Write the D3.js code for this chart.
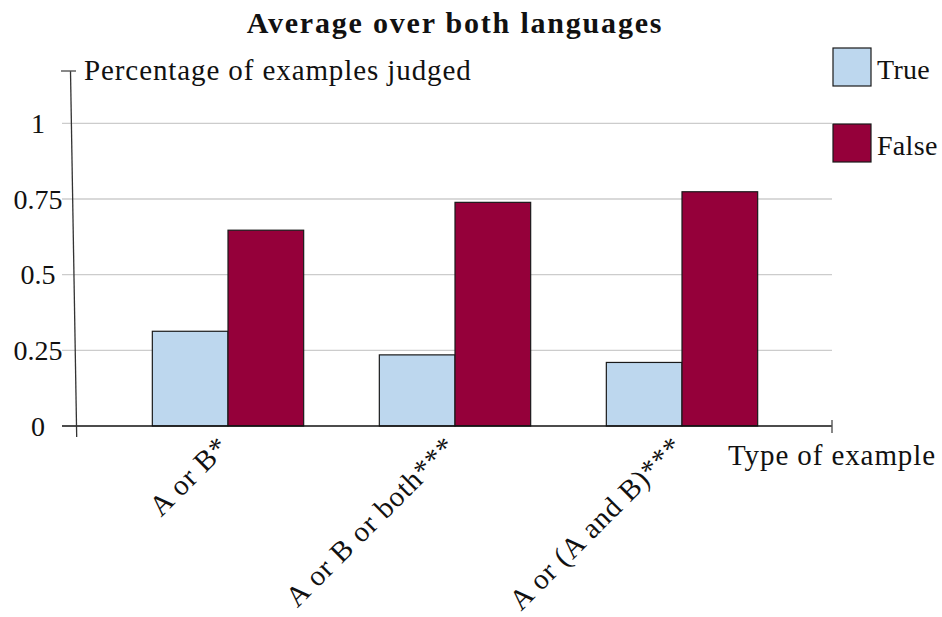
<!DOCTYPE html>
<html>
<head>
<meta charset="utf-8">
<script src="https://cdn.jsdelivr.net/npm/d3@7"></script>
<style>
  body { margin: 0; background: #fff; }
  svg text { font-family: "Liberation Serif", "DejaVu Serif", serif; fill: #111; }
</style>
</head>
<body>
<svg id="chart" width="942" height="617"></svg>
<script>
// data
const categories = ["A or B*", "A or B or both***", "A or (A and B)***"];
const seriesNames = ["True", "False"];
const trueValues = [0.313, 0.235, 0.210];
const falseValues = [0.647, 0.739, 0.774];
const yTicks = [0, 0.25, 0.5, 0.75, 1];
const yTickLabels = ["0", "0.25", "0.5", "0.75", "1"];
const colors = ["#bdd7ee", "#95003a"];

const svg = d3.select("#chart");

// plot box
const plotLeft = 62, plotRight = 832, plotBottom = 426, plotTop = 71;

var y = d3.scaleLinear().domain([0, 1.173]).range([plotBottom, plotTop]);
var x = d3.scaleBand().domain(categories).range([114.5, 795.5]);
var sub = d3.scaleBand().domain(seriesNames).range([0, x.bandwidth() * 2 / 3]);

// grid lines
svg.append("g")
  .selectAll("line")
  .data(yTicks.filter(d => d > 0))
  .enter()
  .append("line")
  .attr("x1", plotLeft).attr("x2", plotRight)
  .attr("y1", d => y(d)).attr("y2", d => y(d))
  .attr("stroke", "#cccccc")
  .attr("stroke-width", 1.3);

// bars
var rows = categories.map((c, i) => ({cat: c, values: [trueValues[i], falseValues[i]]}));
var group = svg.append("g").selectAll("g")
  .data(rows)
  .enter()
  .append("g")
  .attr("transform", d => "translate(" + (x(d.cat) + x.bandwidth() / 6) + ",0)");

group.selectAll("rect")
  .data(d => d.values.map((v, k) => ({name: seriesNames[k], value: v, k: k})))
  .enter()
  .append("rect")
  .attr("x", d => sub(d.name))
  .attr("width", sub.bandwidth())
  .attr("y", d => y(d.value))
  .attr("height", d => y(0) - y(d.value))
  .attr("fill", d => colors[d.k])
  .attr("stroke", "#1a1a1a")
  .attr("stroke-width", 1.2);

// x axis line with end tick
svg.append("line")
  .attr("x1", plotLeft).attr("x2", plotRight)
  .attr("y1", plotBottom).attr("y2", plotBottom)
  .attr("stroke", "#111").attr("stroke-width", 1.4);
svg.append("line")
  .attr("x1", plotRight).attr("x2", plotRight)
  .attr("y1", plotBottom - 6).attr("y2", plotBottom + 7)
  .attr("stroke", "#555").attr("stroke-width", 1.4);

// y axis (slightly slanted, as in the original)
svg.append("line")
  .attr("x1", 70.5).attr("y1", plotTop)
  .attr("x2", 76.7).attr("y2", 437)
  .attr("stroke", "#333").attr("stroke-width", 1.3);
svg.append("line")
  .attr("x1", 61).attr("x2", 76)
  .attr("y1", plotTop).attr("y2", plotTop)
  .attr("stroke", "#555").attr("stroke-width", 1.4);

// y tick labels
svg.append("g")
  .selectAll("text")
  .data(yTicks)
  .enter()
  .append("text")
  .attr("x", 38)
  .attr("y", d => y(d))
  .attr("dy", "0.35em")
  .attr("text-anchor", "middle")
  .style("font-size", "28px")
  .text((d, i) => yTickLabels[i]);

// x tick labels, rotated
svg.append("g")
  .selectAll("text")
  .data(categories)
  .enter()
  .append("text")
  .attr("transform", d => "translate(" + (x(d) + x.bandwidth() / 2 - 12) + "," + 434 + ") rotate(-45)")
  .attr("text-anchor", "end")
  .attr("dy", "0.7em")
  .style("font-size", "29px")
  .style("letter-spacing", "0.9px")
  .text(d => d);

// axis titles
svg.append("text")
  .attr("x", 84).attr("y", 80)
  .style("font-size", "29px")
  .style("letter-spacing", "0.9px")
  .text("Percentage of examples judged");

svg.append("text")
  .attr("x", plotRight).attr("y", 465)
  .attr("text-anchor", "middle")
  .style("font-size", "29px")
  .style("letter-spacing", "0.9px")
  .text("Type of example");

// title
svg.append("text")
  .attr("x", 455).attr("y", 33)
  .attr("text-anchor", "middle")
  .style("font-size", "30px")
  .style("font-weight", "bold")
  .style("letter-spacing", "1.8px")
  .text("Average over both languages");

// legend
var legend = svg.append("g").selectAll("g")
  .data(seriesNames)
  .enter()
  .append("g")
  .attr("transform", (d, i) => "translate(833," + (48 + i * 76) + ")");

legend.append("rect")
  .attr("width", 38).attr("height", 38)
  .attr("fill", (d, i) => colors[i])
  .attr("stroke", "#1a1a1a")
  .attr("stroke-width", 1.2);

legend.append("text")
  .attr("x", 44).attr("y", 31)
  .style("font-size", "28px")
  .style("letter-spacing", "0.3px")
  .text(d => d);
</script>
</body>
</html>
